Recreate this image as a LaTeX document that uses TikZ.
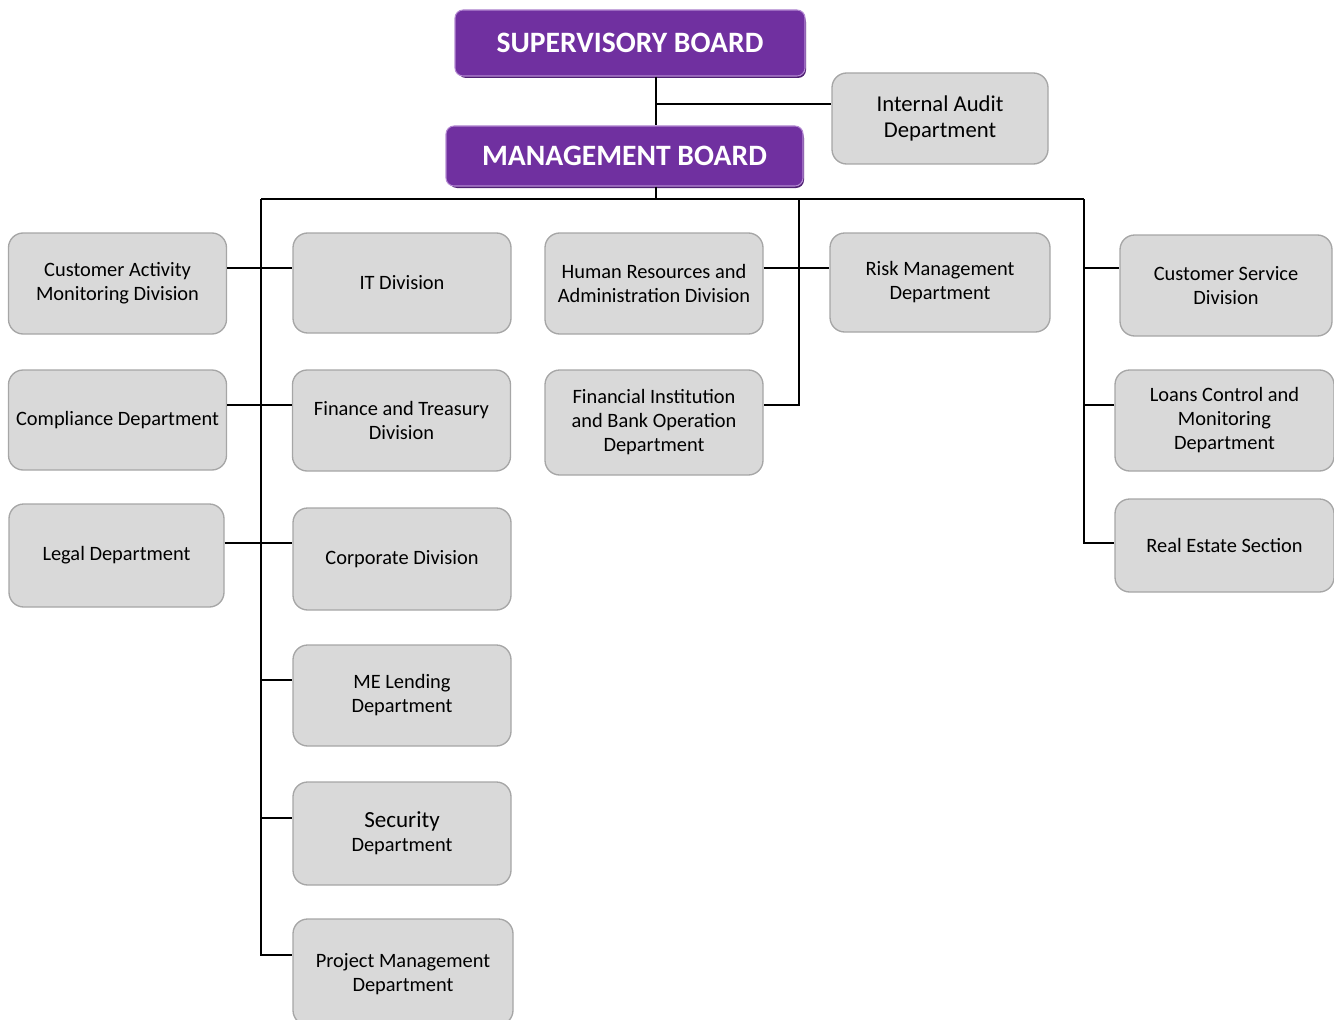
\documentclass[tikz,border=0pt]{standalone}
\usepackage{fontspec}
\setmainfont{Carlito}
\usetikzlibrary{positioning}

\definecolor{boardpurple}{HTML}{7030A0}
\definecolor{boardshadow}{HTML}{4E1F72}
\definecolor{boardglow}{HTML}{B48AD2}
\definecolor{unitgray}{HTML}{D9D9D9}
\definecolor{unitedge}{HTML}{A6A6A6}

\tikzset{
  board/.style={rounded corners=6pt, fill=boardpurple, draw=boardglow, line width=0.8pt,
    text=white, font=\fontsize{22.2}{24}\selectfont\bfseries, align=center, inner sep=0pt},
  unit/.style={rounded corners=11pt, fill=unitgray, draw=unitedge, line width=1pt,
    font=\fontsize{15.3}{18}\selectfont, align=center, inner sep=0pt,
    minimum width=163.5pt, minimum height=75.75pt},
  link/.style={line width=1.5pt, black}
}

\begin{document}
\begin{tikzpicture}[x=0.75pt, y=-0.75pt]
 \useasboundingbox (0,0) rectangle (1334,1020);
 \clip (0,0) rectangle (1334,1020);

 % boards
 \fill[boardshadow, rounded corners=6pt] (458,14) rectangle (806,78);
 \node[board, minimum width=262.5pt, minimum height=49.5pt] (sb) at (630,43) {SUPERVISORY BOARD};
 \fill[boardshadow, rounded corners=6pt] (449,130) rectangle (804,188);
 \node[board, minimum width=267.75pt, minimum height=45pt] (mb) at (624.5,156) {MANAGEMENT BOARD};
 \node[unit, minimum width=162pt, minimum height=68.25pt, font=\fontsize{17}{20}\selectfont] (ia) at (940,118.5) {Internal Audit\\Department};

 % left column
 \node[unit] (camd) at (117.5,283.5) {Customer Activity\\Monitoring Division};
 \node[unit, minimum height=75pt] (comp) at (117.5,420) {Compliance Department};
 \node[unit, minimum width=161.25pt, minimum height=77.25pt] (legal) at (116.5,555.5) {Legal Department};

 % middle column
 \node[unit, minimum height=75pt] (it) at (402,283) {IT Division};
 \node[unit] (fin) at (401.5,420.5) {Finance and Treasury\\Division};
 \node[unit, minimum height=76.5pt] (corp) at (402,559) {Corporate Division};
 \node[unit] (me) at (402,695.5) {ME Lending\\Department};
 \node[unit, minimum height=77.25pt] (sec) at (402,833.5) {{\fontsize{17.3}{19.5}\selectfont Security}\\Department};
 \node[unit, minimum width=165pt, minimum height=79.5pt, text depth=0pt] (pm) at (403,972) {Project Management\\Department};

 % third column
 \node[unit] (hr) at (654,283.5) {Human Resources and\\Administration Division};
 \node[unit, minimum height=78.75pt] (fibo) at (654,422.5) {Financial Institution\\and Bank Operation\\Department};
 \node[unit, minimum width=165pt, minimum height=74.25pt] (risk) at (940,282.5) {Risk Management\\Department};

 % right column
 \node[unit, minimum width=159pt] (cs) at (1226,285.5) {Customer Service\\Division};
 \node[unit, minimum width=164.25pt] (loans) at (1224.5,420.5) {Loans Control and\\Monitoring\\Department};
 \node[unit, minimum width=164.25pt, minimum height=69.75pt] (re) at (1224.5,545.5) {Real Estate Section};

 % joints
 \coordinate (spine) at (656,199);
 \coordinate (iaj) at (656,104);
 \coordinate (busL) at (261,199);
 \coordinate (busM) at (799,199);
 \coordinate (busR) at (1084,199);
 \coordinate (r1) at (261,268);
 \coordinate (r2) at (261,405);
 \coordinate (r3) at (261,543);
 \coordinate (r4) at (261,680);
 \coordinate (r5) at (261,818);
 \coordinate (r6) at (261,955);

 % connectors
 \draw[link] (sb.south -| spine) -- (mb.north -| spine);
 \draw[link] (iaj) -- (iaj -| ia.west);
 \draw[link] (mb.south -| spine) -- (spine);
 \draw[link] (busL) -- (busR);
 \draw[link] (busL) -- (r6) -- (r6 -| pm.west);
 \draw[link] (camd.east |- r1) -- (it.west |- r1);
 \draw[link] (comp.east |- r2) -- (fin.west |- r2);
 \draw[link] (legal.east |- r3) -- (corp.west |- r3);
 \draw[link] (r4) -- (r4 -| me.west);
 \draw[link] (r5) -- (r5 -| sec.west);
 \draw[link] (busM) -- (busM |- r2) -- (fibo.east |- r2);
 \draw[link] (hr.east |- r1) -- (risk.west |- r1);
 \draw[link] (busR) -- (busR |- r3) -- (re.west |- r3);
 \draw[link] (busR |- r1) -- (cs.west |- r1);
 \draw[link] (busR |- r2) -- (loans.west |- r2);
\end{tikzpicture}
\end{document}
